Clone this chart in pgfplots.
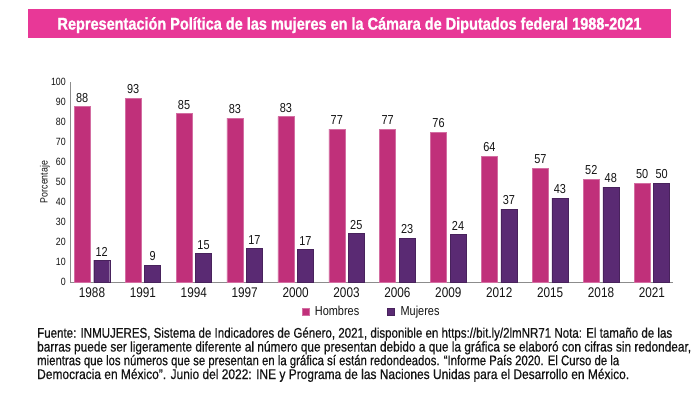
\documentclass[border=0pt]{standalone}
\usepackage{pgfplots}
\pgfplotsset{compat=1.18}
\usepackage{pgfplotstable}
\usepackage{graphicx}
\usepackage{fontspec}
\setmainfont{Liberation Sans}[FakeStretch=0.84]
\newfontfamily\titlefont{Liberation Sans}[FakeStretch=0.80, FakeBold=1.2, BoldFont={Liberation Sans Bold}, BoldFeatures={FakeBold=1.2, FakeStretch=0.80}]
\newfontfamily\notefont{Liberation Sans}[FakeStretch=0.84, FakeBold=0.5]
\definecolor{titlepink}{RGB}{232,56,151}
\definecolor{hom}{RGB}{192,48,122}
\definecolor{muj}{RGB}{90,42,115}
\definecolor{txt}{RGB}{20,20,20}

\pgfplotstableread{
x h m hl ml
0 87.7 10.9 88 12
1 92.0 8.4 93 9
2 84.2 14.2 85 15
3 82.0 16.9 83 17
4 82.7 16.2 83 17
5 76.5 24.2 77 25
6 76.5 22.0 77 23
7 75.0 23.9 76 24
8 63.0 36.4 64 37
9 56.9 42.0 57 43
10 51.4 47.5 52 48
11 49.4 49.4 50 50
}\datatable

\begin{document}
\begin{tikzpicture}
\path[fill=white,use as bounding box] (0pt,0pt) rectangle (700pt,-394pt);
% title
\fill[titlepink] (28pt,-9.3pt) rectangle (671pt,-37.7pt);
\node[anchor=base west,inner sep=0pt,text=white] at (57.3pt,-29.6pt)
  {\resizebox{584pt}{\height}{\titlefont\fontsize{17pt}{19pt}\selectfont\bfseries Representación Política de las mujeres en la Cámara de Diputados federal 1988-2021}};
\begin{axis}[
  at={(70pt,-282pt)}, anchor=south west,
  scale only axis, width=603pt, height=200pt,
  xmin=-0.432, xmax=11.414, ymin=0, ymax=100,
  axis x line*=bottom, axis y line*=left,
  axis line style={draw=black!45, line width=0.8pt},
  xtick={0,...,11},
  xticklabels={1988,1991,1994,1997,2000,2003,2006,2009,2012,2015,2018,2021},
  ytick={0,10,...,100},
  major tick length=0pt,
  /pgf/number format/assume math mode=true,
  xticklabel style={font=\fontsize{14pt}{16pt}\selectfont, text=txt, anchor=base, inner sep=0pt, yshift=-15pt},
  yticklabel style={font=\fontsize{10.5pt}{12pt}\selectfont, text=txt, anchor=east, inner sep=0pt, xshift=-4pt},
  ybar, bar width=16pt,
  nodes near coords,
  point meta=explicit symbolic,
  every node near coord/.append style={font=\fontsize{13pt}{15pt}\selectfont, text=txt, anchor=south, inner sep=0pt, yshift=4pt},
  legend columns=2,
  legend style={draw=none, fill=none, at={(0.5,-0.15)}, anchor=center,
    font=\fontsize{13pt}{15pt}\selectfont, text=txt,
    /tikz/every even column/.append style={column sep=26pt}},
  legend image code/.code={\fill[#1] (0pt,-3.5pt) rectangle (7pt,3.5pt);},
]
\addplot[fill=hom, draw=hom!70!white, bar shift=-9.75pt] table[x=x, y=h, meta=hl] {\datatable};
\addplot[fill=muj, draw=muj!80!black, bar shift=9.75pt] table[x=x, y=m, meta=ml] {\datatable};
\legend{\hspace{4pt}Hombres, \hspace{4pt}Mujeres}
\end{axis}
\node[rotate=90, font=\fontsize{10.5pt}{12pt}\selectfont, text=txt] at (45pt,-182pt) {Porcentaje};
% footnote
\begin{scope}[every node/.style={anchor=base west, inner sep=0pt, text=txt, font=\notefont\fontsize{14pt}{16pt}\selectfont}]
\node at (37pt,-337.7pt) {\resizebox{635pt}{\height}{Fuente: INMUJERES, Sistema de Indicadores de Género, 2021, disponible en https://bit.ly/2lmNR71 Nota: El tamaño de las}};
\node at (37pt,-351.5pt) {\resizebox{654pt}{\height}{barras puede ser ligeramente diferente al número que presentan debido a que la gráfica se elaboró con cifras sin redondear,}};
\node at (37pt,-365.2pt) {\resizebox{582pt}{\height}{mientras que los números que se presentan en la gráfica sí están redondeados. “Informe País 2020. El Curso de la}};
\node at (37pt,-379pt) {\resizebox{592pt}{\height}{Democracia en México”. Junio del 2022: INE y Programa de las Naciones Unidas para el Desarrollo en México.}};
\end{scope}
\end{tikzpicture}
\end{document}
